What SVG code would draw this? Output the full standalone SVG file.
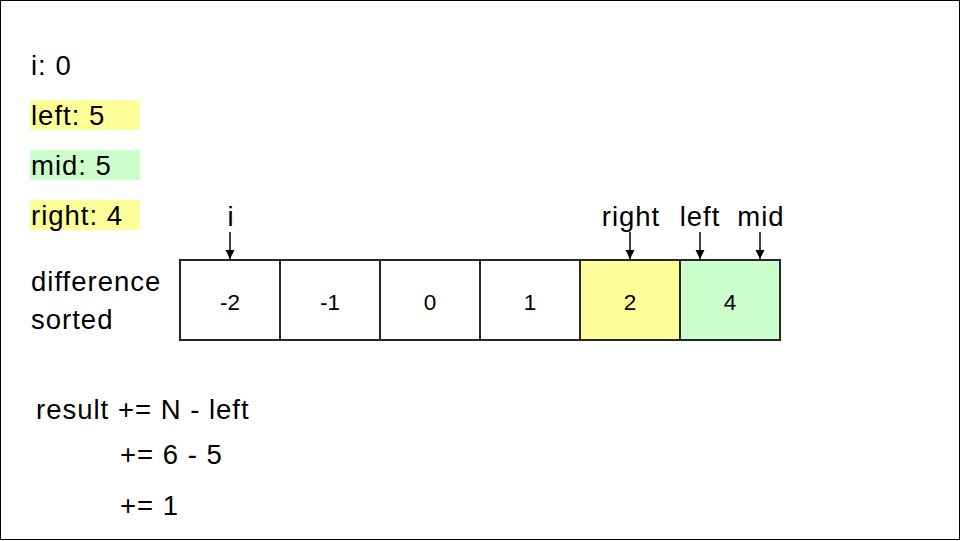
<svg xmlns="http://www.w3.org/2000/svg" width="961" height="541" viewBox="0 0 961 541">
<style>
.t{font-family:"Liberation Sans",Arial,sans-serif;font-size:27.5px;letter-spacing:1px;fill:#000}
.c{font-family:"Liberation Sans",Arial,sans-serif;font-size:22.5px;fill:#000;text-anchor:middle}
.m{text-anchor:middle}
.cell{stroke:#262626;stroke-width:2}
.y{fill:#FFFF99}
.g{fill:#CCFFCC}
.w{fill:#FFFFFF}
.arr{stroke:#000;stroke-width:1.5;fill:none;marker-end:url(#ah)}
</style>
<defs>
<marker id="ah" viewBox="0 0 10 10" refX="10" refY="5" markerUnits="userSpaceOnUse" markerWidth="9" markerHeight="10" orient="auto">
<path d="M0,0 L10,5 L0,10 Z" fill="#000"/>
</marker>
</defs>
<rect x="0.5" y="0.5" width="959" height="539" fill="#fff" stroke="#000" stroke-width="1"/>
<g id="label-i"><text class="t" x="31" y="75">i: 0</text></g>
<g id="label-left"><rect class="y" x="30" y="100" width="110" height="30"/><text class="t" x="31" y="125">left: 5</text></g>
<g id="label-mid"><rect class="g" x="30" y="150" width="110" height="30"/><text class="t" x="31" y="175">mid: 5</text></g>
<g id="label-right"><rect class="y" x="30" y="200" width="110" height="30"/><text class="t" x="31" y="225">right: 4</text></g>
<g id="label-diff"><text class="t" x="31" y="291">difference</text><text class="t" x="31" y="329">sorted</text></g>
<g id="cell0"><rect class="cell w" x="180" y="260" width="100" height="80"/><text class="c" x="230" y="310">-2</text></g>
<g id="cell1"><rect class="cell w" x="280" y="260" width="100" height="80"/><text class="c" x="330" y="310">-1</text></g>
<g id="cell2"><rect class="cell w" x="380" y="260" width="100" height="80"/><text class="c" x="430" y="310">0</text></g>
<g id="cell3"><rect class="cell w" x="480" y="260" width="100" height="80"/><text class="c" x="530" y="310">1</text></g>
<g id="cell4"><rect class="cell y" x="580" y="260" width="100" height="80"/><text class="c" x="630" y="310">2</text></g>
<g id="cell5"><rect class="cell g" x="680" y="260" width="100" height="80"/><text class="c" x="730" y="310">4</text></g>
<g id="ptr-i"><text class="t m" x="231" y="226">i</text></g>
<g id="ptr-right"><text class="t m" x="631" y="226">right</text></g>
<g id="ptr-left"><text class="t m" x="700" y="226">left</text></g>
<g id="ptr-mid"><text class="t m" x="761" y="226">mid</text></g>
<g id="connectors">
<line class="arr" x1="230" y1="232" x2="230" y2="259"/>
<line class="arr" x1="630" y1="232" x2="630" y2="259"/>
<line class="arr" x1="700" y1="232" x2="700" y2="259"/>
<line class="arr" x1="760" y1="232" x2="760" y2="259"/>
</g>
<g id="result">
<text class="t" x="36" y="419">result += N - left</text>
<text class="t" x="120" y="464">+= 6 - 5</text>
<text class="t" x="120" y="515">+= 1</text>
</g>
</svg>
